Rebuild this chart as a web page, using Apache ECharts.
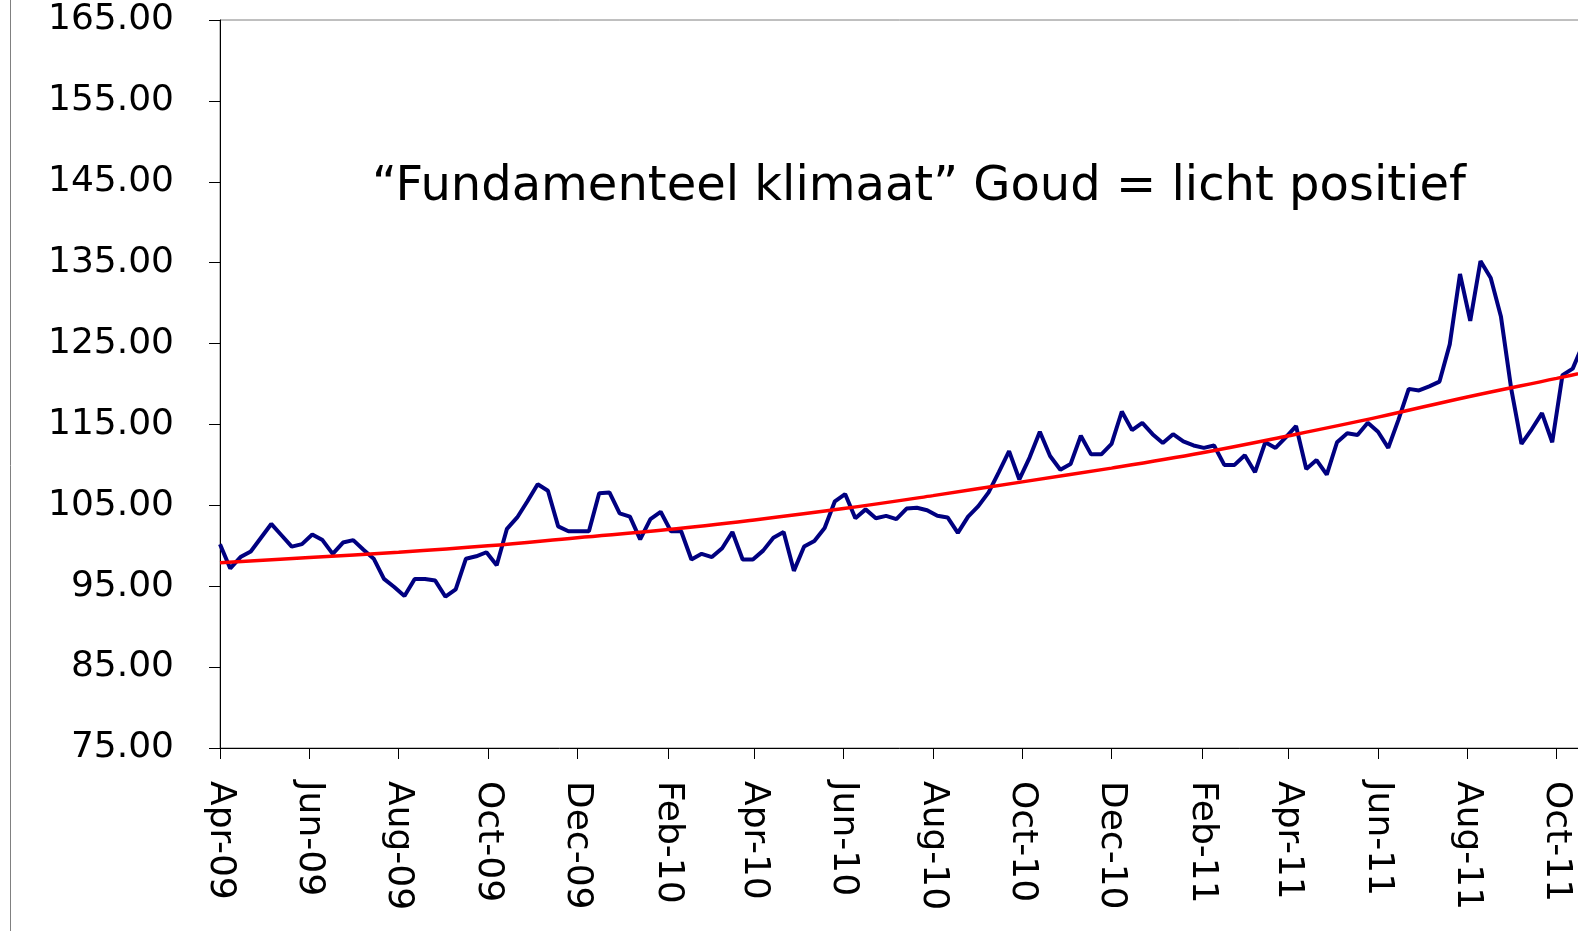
<!DOCTYPE html>
<html>
<head>
<meta charset="utf-8">
<title>Goud</title>
<script src="https://cdn.jsdelivr.net/npm/echarts@6/dist/echarts.min.js"></script>
<style>
	html,body{margin:0;padding:0;background:#fff;}
	#chart{width:1578px;height:931px;}
</style>
</head>
<body>
<div id="chart"></div>
<script>
	// weekly quotes, first week = Apr-09
	const startWeek = 'Apr-09'
	const goudValues = [
		100.2, 97.2, 98.6, 99.3, 101.0, 102.7, 101.3, 99.9, 100.2, 101.4,
		100.7, 99.0, 100.4, 100.7, 99.5, 98.4, 95.9, 94.9, 93.8, 95.9,
		95.9, 95.7, 93.7, 94.6, 98.4, 98.7, 99.2, 97.6, 102.1, 103.5,
		105.5, 107.6, 106.8, 102.4, 101.8, 101.8, 101.8, 106.5, 106.6, 104.0,
		103.6, 100.8, 103.3, 104.2, 101.8, 101.8, 98.3, 99.0, 98.6, 99.7,
		101.7, 98.3, 98.3, 99.4, 101.0, 101.7, 96.9, 99.9, 100.6, 102.2,
		105.5, 106.4, 103.4, 104.5, 103.4, 103.7, 103.3, 104.6, 104.7, 104.4,
		103.7, 103.5, 101.6, 103.6, 104.9, 106.6, 109.1, 111.7, 108.2, 110.9,
		114.1, 111.1, 109.4, 110.1, 113.6, 111.3, 111.3, 112.6, 116.6, 114.3,
		115.2, 113.8, 112.7, 113.8, 112.9, 112.4, 112.1, 112.4, 110.0, 110.0,
		111.2, 109.1, 112.8, 112.1, 113.4, 114.8, 109.5, 110.6, 108.8, 112.8,
		113.9, 113.7, 115.2, 114.1, 112.1, 115.6, 119.4, 119.2, 119.7, 120.3,
		124.9, 133.6, 127.8, 135.2, 133.1, 128.3, 119.4, 112.6, 114.4, 116.4,
		112.8, 121.1, 121.9, 124.9
	]

	// trend line read at month starts
	const trendMonths = ['Apr-09','Jun-09','Aug-09','Oct-09','Dec-09','Feb-10','Apr-10','Jun-10',
		'Aug-10','Oct-10','Dec-10','Feb-11','Apr-11','Jun-11','Aug-11','Oct-11','Nov-11']
	const trendValues = [97.9, 98.55, 99.2, 100.0, 101.0, 102.0, 103.2, 104.6,
		106.2, 107.9, 109.6, 111.5, 113.6, 115.9, 118.4, 120.7, 121.9]

	const xTickLabels = ['Apr-09','Jun-09','Aug-09','Oct-09','Dec-09','Feb-10','Apr-10','Jun-10',
		'Aug-10','Oct-10','Dec-10','Feb-11','Apr-11','Jun-11','Aug-11','Oct-11']
	const xEnd = 'Nov-11'
	const yTicks = [75, 85, 95, 105, 115, 125, 135, 145, 155, 165]

	const titleText = '\u201cFundamenteel klimaat\u201d Goud = licht positief'

	const MONTHS = ['Jan','Feb','Mar','Apr','May','Jun','Jul','Aug','Sep','Oct','Nov','Dec']
	const WEEK = 7 * 24 * 3600 * 1000
	const FONT = '"DejaVu Sans", Verdana, sans-serif'

	function parseMonth(s){
		let [m, y] = s.split('-')
		return Date.UTC(2000 + Number(y), MONTHS.indexOf(m), 1)
	}
	function fmtMonth(t){
		let d = new Date(t)
		return MONTHS[d.getUTCMonth()] + '-' + String(d.getUTCFullYear() % 100).padStart(2, '0')
	}

	const t0 = parseMonth(startWeek)
	const xMin = parseMonth(xTickLabels[0])
	const xMax = parseMonth(xEnd)
	const xTicks = xTickLabels.map(parseMonth)

	const chart = echarts.init(document.getElementById('chart'))
	chart.setOption({
		animation: false,
		backgroundColor: '#fff',
		grid: {
			left: 220,
			top: 20,
			width: 1382,
			height: 728,
			outerBoundsMode: 'none',
			containLabel: false,
			show: true,
			borderColor: '#808080',
			borderWidth: 1,
			backgroundColor: 'transparent'
		},
		graphic: [
			{
				type: 'line',
				shape: { x1: 10.5, y1: 0, x2: 10.5, y2: 931 },
				style: { stroke: '#808080', lineWidth: 1 },
				silent: true
			},
			{
				type: 'text',
				left: 372,
				top: 164,
				style: {
					text: titleText,
					font: '48px ' + FONT,
					fill: '#000'
				},
				silent: true
			}
		],
		xAxis: {
			type: 'value',
			min: xMin,
			max: xMax,
			axisLine: { show: true, lineStyle: { color: '#000', width: 1 } },
			axisTick: { show: true, length: 11, customValues: xTicks, lineStyle: { color: '#000' } },
			axisLabel: {
				customValues: xTicks,
				formatter: v => fmtMonth(v),
				rotate: -90,
				margin: 33,
				color: '#000',
				fontSize: 36,
				fontFamily: FONT
			},
			splitLine: { show: false }
		},
		yAxis: {
			type: 'value',
			min: 75,
			max: 165,
			axisLine: { show: true, lineStyle: { color: '#000', width: 1 } },
			axisTick: { show: true, length: 11, customValues: yTicks, lineStyle: { color: '#000' } },
			axisLabel: {
				customValues: yTicks,
				formatter: v => v.toFixed(2),
				margin: 46,
				padding: [5, 0, 0, 0],
				color: '#000',
				fontSize: 36,
				fontFamily: FONT
			},
			splitLine: { show: false }
		},
		series: [
			{
				name: 'Goud',
				type: 'line',
				data: goudValues.map((v, i) => [t0 + i * WEEK, v]),
				showSymbol: false,
				symbol: 'none',
				lineStyle: { color: '#000080', width: 4 },
				z: 2
			},
			{
				name: 'Trend',
				type: 'line',
				data: trendMonths.map((m, i) => [parseMonth(m), trendValues[i]]),
				smooth: 0.4,
				showSymbol: false,
				symbol: 'none',
				lineStyle: { color: '#ff0000', width: 3.5 },
				z: 3
			}
		]
	})
</script>
</body>
</html>
